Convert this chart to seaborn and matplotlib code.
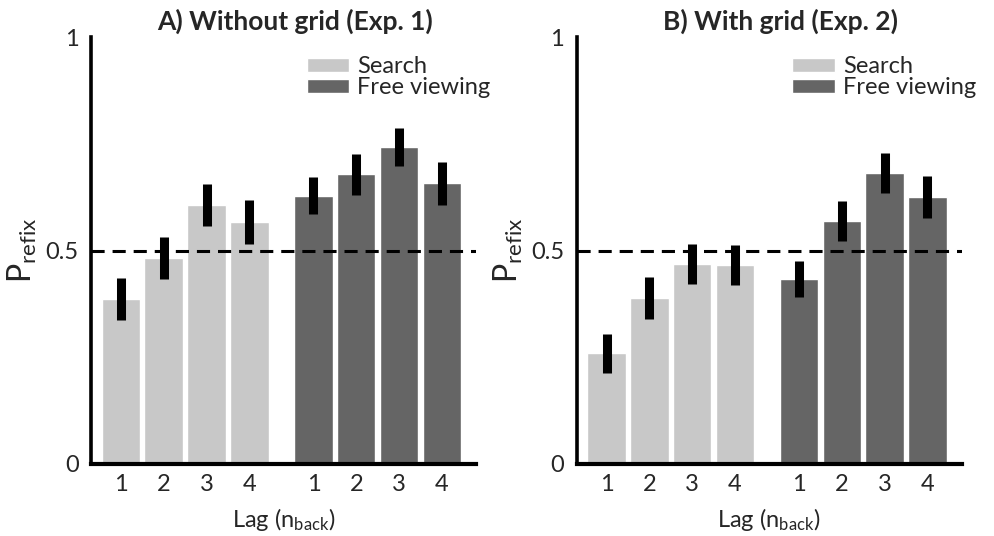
import matplotlib
matplotlib.use('Agg')
import matplotlib.pyplot as plt
import seaborn as sns
import pandas as pd
import numpy as np

# Valeurs
lags = [1, 2, 3, 4]
conditions = ['Search', 'Free viewing']
titles = ['A) Without grid (Exp. 1)', 'B) With grid (Exp. 2)']

exp1_search = [0.386, 0.483, 0.607, 0.567]
exp1_free = [0.628, 0.678, 0.742, 0.657]
exp1_search_err = [0.049, 0.049, 0.049, 0.051]
exp1_free_err = [0.043, 0.047, 0.045, 0.050]

exp2_search = [0.259, 0.388, 0.468, 0.466]
exp2_free = [0.433, 0.570, 0.681, 0.625]
exp2_search_err = [0.046, 0.049, 0.047, 0.046]
exp2_free_err = [0.043, 0.047, 0.047, 0.050]

colors = {'Search': '#c8c8c8', 'Free viewing': '#656565'}

sns.set_style('white')
plt.rcParams['font.family'] = ['Lato', 'DejaVu Sans']
plt.rcParams['mathtext.fontset'] = 'custom'
plt.rcParams['mathtext.rm'] = 'Lato'
plt.rcParams['mathtext.it'] = 'Lato:italic'
FS = 17


def make_df(search, free, search_err, free_err):
    # positions: groupe "Search" puis "Free viewing" avec un espace de 1.5
    pos = [l - 1 for l in lags] + [l + 3.5 for l in lags]
    return pd.DataFrame({
        'pos': pos,
        'lag': lags + lags,
        'value': search + free,
        'err': search_err + free_err,
        'condition': [conditions[0]] * 4 + [conditions[1]] * 4,
    })


data = [make_df(exp1_search, exp1_free, exp1_search_err, exp1_free_err),
        make_df(exp2_search, exp2_free, exp2_search_err, exp2_free_err)]

fig = plt.figure(figsize=(9.94, 5.36), dpi=100)
lefts = [91 / 994, 576.7 / 994]
width = 385 / 994
bottom = 1 - 464 / 536
height = 427 / 536

for i, df in enumerate(data):
    ax = fig.add_axes([lefts[i], bottom, width, height])
    sns.barplot(data=df, x='pos', y='value', hue='condition', palette=colors,
                native_scale=True, dodge=False, width=0.9, errorbar=None,
                saturation=1, ax=ax)
    ax.errorbar(df['pos'], df['value'], yerr=df['err'], fmt='none',
                ecolor='black', elinewidth=6.5, capsize=0, zorder=4)
    ax.axhline(0.5, color='black', ls=(0, (4.3, 2.6)), lw=2.2, zorder=5)

    ax.set_xlim(-0.7, 8.3)
    ax.set_ylim(0, 1)
    ax.set_xticks(df['pos'])
    ax.set_xticklabels(df['lag'], fontsize=FS)
    ax.set_yticks([0, 0.5, 1])
    ax.set_yticklabels(['0', '0.5', '1'], fontsize=FS)
    ax.tick_params(axis='x', length=0, pad=7)
    ax.tick_params(axis='y', direction='inout', length=10, width=2.2, pad=4)

    sns.despine(ax=ax)
    ax.spines['left'].set_bounds(0, 1)
    ax.spines['left'].set_linewidth(2.6)
    ax.spines['bottom'].set_linewidth(3)
    ax.spines['left'].set_color('black')
    ax.spines['bottom'].set_color('black')

    ax.set_title(titles[i], fontsize=FS + 2, fontweight='bold', pad=5, x=0.53)
    ax.set_xlabel(r'Lag (n$_{\mathrm{back}}$)', fontsize=FS, labelpad=8)
    ax.set_ylabel(r'P$_{\mathrm{refix}}$', fontsize=FS + 6)
    ax.yaxis.set_label_coords(-0.135, 0.5)

    handles, labels = ax.get_legend_handles_labels()
    ax.legend(handles, labels, loc='upper left', bbox_to_anchor=(0.56, 0.955),
              frameon=False, fontsize=FS, handlelength=1.8, handleheight=0.55,
              handletextpad=0.35, labelspacing=0.0, borderpad=0, borderaxespad=0)

fig.savefig('out.png', dpi=100)
